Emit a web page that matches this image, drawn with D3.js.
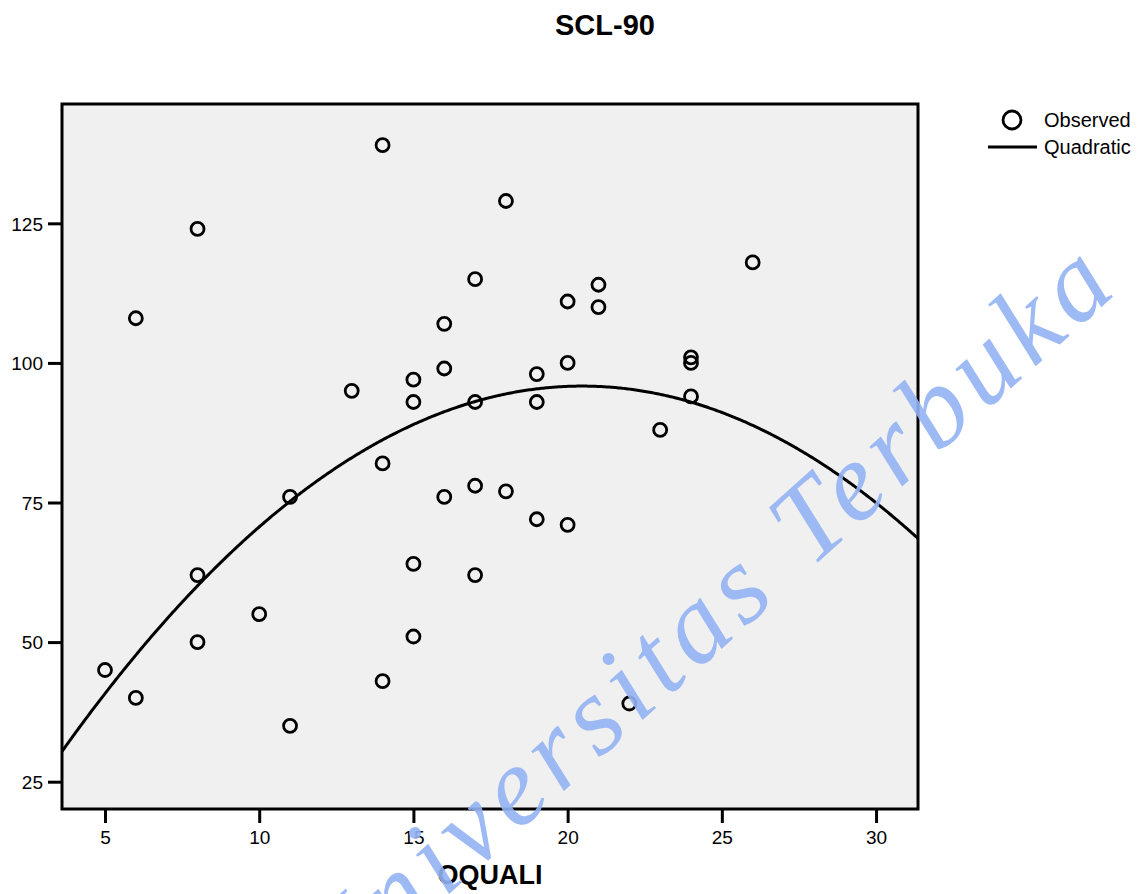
<!DOCTYPE html>
<html>
<head>
<meta charset="utf-8">
<script src="https://cdn.jsdelivr.net/npm/d3@7"></script>
<style>
    body { margin: 0; background: #fff; }
    svg { display: block; font-family: "Liberation Sans", Arial, sans-serif; }
</style>
</head>
<body>
<div id="chart"></div>
<script>
// QUALI (x) and SCL-90 (y) observations
const quali = [5, 6, 6, 8, 8, 8, 10, 11, 11, 13,
               14, 14, 14, 15, 15, 15, 15, 16, 16, 16,
               17, 17, 17, 17, 18, 18, 19, 19, 19, 20,
               20, 20, 21, 21, 22, 23, 24, 24, 24, 26];
const scl90 = [45, 108, 40, 124, 62, 50, 55, 76, 35, 95,
               139, 82, 43, 97, 93, 64, 51, 107, 99, 76,
               115, 93, 78, 62, 129, 77, 98, 93, 72, 111,
               100, 71, 114, 110, 39, 88, 101, 100, 94, 118];

// quadratic fit: y = b0 + b1*x + b2*x^2
const b0 = -0.56;
const b1 = 9.42;
const b2 = -0.2301;

const xTicks = [5, 10, 15, 20, 25, 30];
const yTicks = [25, 50, 75, 100, 125];
const legendLabels = ['Observed', 'Quadratic'];

const width = 1145;
const height = 894;
const plot = {left: 62, right: 918, top: 104, bottom: 809};

const svg = d3.select('#chart')
    .append('svg')
    .attr('width', width)
    .attr('height', height);

const x = d3.scaleLinear().domain([3.606, 31.36]).range([plot.left, plot.right]);
const y = d3.scaleLinear().domain([20.11, 146.37]).range([plot.bottom, plot.top]);

svg.append('text')
    .attr('x', 605)
    .attr('y', 35)
    .attr('text-anchor', 'middle')
    .attr('font-size', 29)
    .attr('font-weight', 'bold')
    .text('SCL-90');

svg.append('rect')
    .attr('x', plot.left)
    .attr('y', plot.top)
    .attr('width', plot.right - plot.left)
    .attr('height', plot.bottom - plot.top)
    .attr('fill', '#f0f0f0');

svg.append('clipPath').attr('id', 'plot-clip')
    .append('rect')
    .attr('x', plot.left)
    .attr('y', plot.top)
    .attr('width', plot.right - plot.left)
    .attr('height', plot.bottom - plot.top);

// fitted curve
const curveX = d3.range(x.domain()[0], x.domain()[1] + 0.05, 0.05);
const line = d3.line()
    .x(d => x(d))
    .y(d => y(b0 + b1 * d + b2 * d * d));

svg.append('path')
    .datum(curveX)
    .attr('clip-path', 'url(#plot-clip)')
    .attr('d', line)
    .attr('fill', 'none')
    .attr('stroke', '#000')
    .attr('stroke-width', 3);

svg.append('g')
    .selectAll('circle')
    .data(quali.map((q, i) => ({x: q, y: scl90[i]})))
    .enter().append('circle')
    .attr('cx', d => x(d.x))
    .attr('cy', d => y(d.y))
    .attr('r', 6.5)
    .attr('fill', 'none')
    .attr('stroke', '#000')
    .attr('stroke-width', 2.8);

// axes
const xAxis = d3.axisBottom(x).tickValues(xTicks).tickSize(14).tickPadding(8).tickSizeOuter(0);
const yAxis = d3.axisLeft(y).tickValues(yTicks).tickSize(14).tickPadding(5).tickSizeOuter(0);

const gx = svg.append('g')
    .attr('transform', `translate(0,${plot.bottom})`)
    .call(xAxis);
const gy = svg.append('g')
    .attr('transform', `translate(${plot.left},0)`)
    .call(yAxis);

[gx, gy].forEach(g => {
    g.select('.domain').remove();
    g.selectAll('.tick line').attr('stroke', '#000').attr('stroke-width', 3);
    g.selectAll('.tick text')
        .attr('fill', '#000')
        .attr('font-size', 19)
        .attr('font-family', '"Liberation Sans", Arial, sans-serif');
});
gy.selectAll('.tick text').attr('dy', '0.36em');

svg.append('rect')
    .attr('x', plot.left)
    .attr('y', plot.top)
    .attr('width', plot.right - plot.left)
    .attr('height', plot.bottom - plot.top)
    .attr('fill', 'none')
    .attr('stroke', '#000')
    .attr('stroke-width', 3);

svg.append('text')
    .attr('x', (plot.left + plot.right) / 2)
    .attr('y', 884)
    .attr('text-anchor', 'middle')
    .attr('font-size', 27)
    .attr('font-weight', 'bold')
    .text('OQUALI');

// legend
const legend = svg.append('g');
legend.append('circle')
    .attr('cx', 1012)
    .attr('cy', 120)
    .attr('r', 9)
    .attr('fill', 'none')
    .attr('stroke', '#000')
    .attr('stroke-width', 2.8);
legend.append('line')
    .attr('x1', 988).attr('x2', 1037)
    .attr('y1', 147).attr('y2', 147)
    .attr('stroke', '#000')
    .attr('stroke-width', 3);
legend.selectAll('text')
    .data(legendLabels)
    .enter().append('text')
    .attr('x', 1044)
    .attr('y', (d, i) => 127 + i * 27)
    .attr('font-size', 20)
    .text(d => d);

// watermark
svg.append('text')
    .attr('transform', 'translate(1118,292) rotate(-42)')
    .attr('text-anchor', 'end')
    .attr('font-family', '"Liberation Serif", "DejaVu Serif", serif')
    .attr('font-style', 'italic')
    .attr('font-size', 112)
    .attr('textLength', 1060)
    .attr('lengthAdjust', 'spacing')
    .attr('fill', '#92b2f4')
    .attr('fill-opacity', 0.9)
    .text('Universitas Terbuka');
</script>
</body>
</html>
